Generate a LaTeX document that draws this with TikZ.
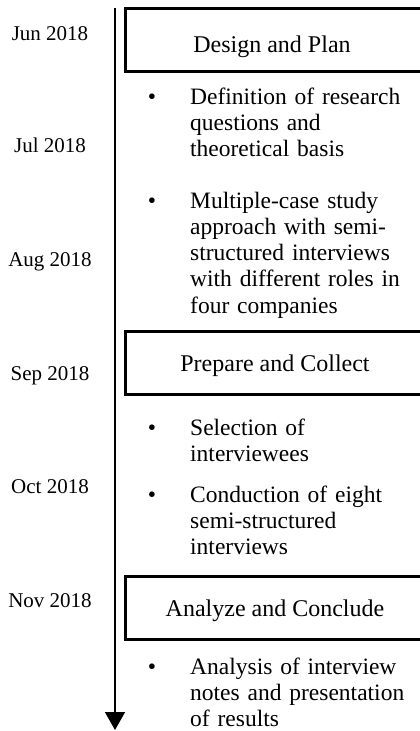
\documentclass[tikz,border=0pt]{standalone}
\usepackage{fontspec}
\setmainfont{Liberation Serif}
\usetikzlibrary{arrows.meta}
\begin{document}
\begin{tikzpicture}[x=1pt,y=-1pt,
  phase/.style={draw=black,line width=3pt,fill=white,inner sep=0pt,
    minimum width=297pt,minimum height=63pt},
  title/.style={font=\fontsize{24}{27}\selectfont,anchor=base,inner sep=0pt},
  month/.style={font=\fontsize{21}{24}\selectfont,anchor=base,inner sep=0pt},
  item/.style={font=\fontsize{23.5}{26.3}\selectfont,anchor=base west,
    inner sep=0pt,align=left,text width=228pt},
  bul/.style={font=\fontsize{23.5}{26.3}\selectfont,anchor=base,inner sep=0pt},
  timeline/.style={line width=1.5pt,-{Triangle[width=20pt,length=18pt]}}]
\useasboundingbox (0,0) rectangle (420,731);
\begin{scope}
\clip (0,0) rectangle (420,731);

% time axis
\coordinate (tstart) at (115,8);
\coordinate (tend) at (115,730);
\draw[timeline] (tstart) -- (tend);

% months
\node[month] (m1) at (50,40)    {Jun 2018};
\node[month] (m2) at (50,152.5) {Jul 2018};
\node[month] (m3) at (50,266)   {Aug 2018};
\node[month] (m4) at (50,380)   {Sep 2018};
\node[month] (m5) at (50,493)   {Oct 2018};
\node[month] (m6) at (50,607)   {Nov 2018};

% phases
\node[phase] (p1) at (274,39.5) {};
\node[title] (p1t) at (272,52) {Design and Plan};
\node[phase] (p2) at (274,362.5) {};
\node[title] (p2t) at (275,371) {Prepare and Collect};
\node[phase] (p3) at (274,608) {};
\node[title] (p3t) at (275,616) {Analyze and Conclude};

% activities
\node[bul] (b1) at (152,104) {\textbullet};
\node[item] (a1) at (190,104) {Definition of research\\questions and\\theoretical basis};
\node[bul] (b2) at (152,208) {\textbullet};
\node[item] (a2) at (190,208) {Multiple-case study\\approach with semi-\\structured interviews\\with different roles in\\four companies};
\node[bul] (b3) at (152,435) {\textbullet};
\node[item] (a3) at (190,435) {Selection of\\interviewees};
\node[bul] (b4) at (152,502) {\textbullet};
\node[item] (a4) at (190,502) {Conduction of eight\\semi-structured\\interviews};
\node[bul] (b5) at (152,674) {\textbullet};
\node[item] (a5) at (190,674) {Analysis of interview\\notes and presentation\\of results};
\end{scope}
\end{tikzpicture}
\end{document}
